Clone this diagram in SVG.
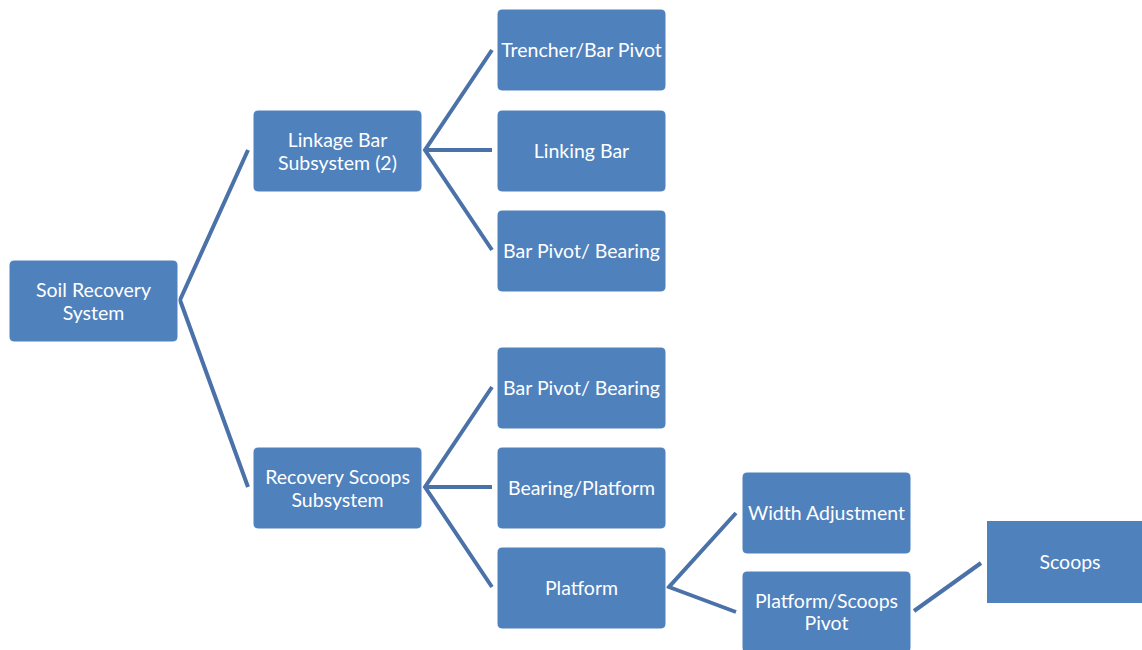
<svg xmlns="http://www.w3.org/2000/svg" width="1142" height="650" viewBox="0 0 1142 650">
<style>
.n{fill:#4F81BD;stroke:#ffffff;stroke-width:1}
.t{fill:#ffffff;font-family:Lato,"Open Sans",sans-serif;font-size:19.5px;text-anchor:middle;dominant-baseline:central}
.c{stroke:#4A72A8;stroke-width:4;fill:none;stroke-linejoin:miter}
</style>
<rect width="1142" height="650" fill="#ffffff"/>
<g id="connectors">
<polyline class="c" points="248,150 180,300 248,487"/>
<polyline class="c" points="492,50 425,150 492,250"/>
<line class="c" x1="425" y1="150" x2="492" y2="150"/>
<polyline class="c" points="492,387 425,487 492,587"/>
<line class="c" x1="425" y1="487" x2="492" y2="487"/>
<polyline class="c" points="736,513 669,587 736,612"/>
<line class="c" x1="914" y1="611" x2="981" y2="563"/>
</g>
<g id="soil"><rect class="n" x="9" y="260" width="169" height="82" rx="5"/><text class="t" x="93.5" y="289">Soil Recovery</text><text class="t" x="93.5" y="312">System</text></g>
<g id="linkage"><rect class="n" x="253" y="110" width="169" height="82" rx="5"/><text class="t" x="337.5" y="139">Linkage Bar</text><text class="t" x="337.5" y="162">Subsystem (2)</text></g>
<g id="scoopsSub"><rect class="n" x="253" y="447" width="169" height="82" rx="5"/><text class="t" x="337.5" y="476">Recovery Scoops</text><text class="t" x="337.5" y="499">Subsystem</text></g>
<g id="trencher"><rect class="n" x="497" y="9" width="169" height="82" rx="5"/><text class="t" x="581.5" y="49">Trencher/Bar Pivot</text></g>
<g id="linkingBar"><rect class="n" x="497" y="110" width="169" height="82" rx="5"/><text class="t" x="581.5" y="150">Linking Bar</text></g>
<g id="barPivot1"><rect class="n" x="497" y="210" width="169" height="82" rx="5"/><text class="t" x="581.5" y="250">Bar Pivot/ Bearing</text></g>
<g id="barPivot2"><rect class="n" x="497" y="347" width="169" height="82" rx="5"/><text class="t" x="581.5" y="387">Bar Pivot/ Bearing</text></g>
<g id="bearingPlatform"><rect class="n" x="497" y="447" width="169" height="82" rx="5"/><text class="t" x="581.5" y="487">Bearing/Platform</text></g>
<g id="platform"><rect class="n" x="497" y="547" width="169" height="82" rx="5"/><text class="t" x="581.5" y="587">Platform</text></g>
<g id="widthAdj"><rect class="n" x="742" y="472" width="169" height="82" rx="5"/><text class="t" x="826.5" y="512">Width Adjustment</text></g>
<g id="pivot"><rect class="n" x="742" y="571" width="169" height="82" rx="5"/><text class="t" x="826.5" y="600">Platform/Scoops</text><text class="t" x="826.5" y="622">Pivot</text></g>
<g id="scoops"><rect x="987" y="521" width="160" height="82" fill="#4F81BD"/><text class="t" x="1070" y="561">Scoops</text></g>
</svg>
